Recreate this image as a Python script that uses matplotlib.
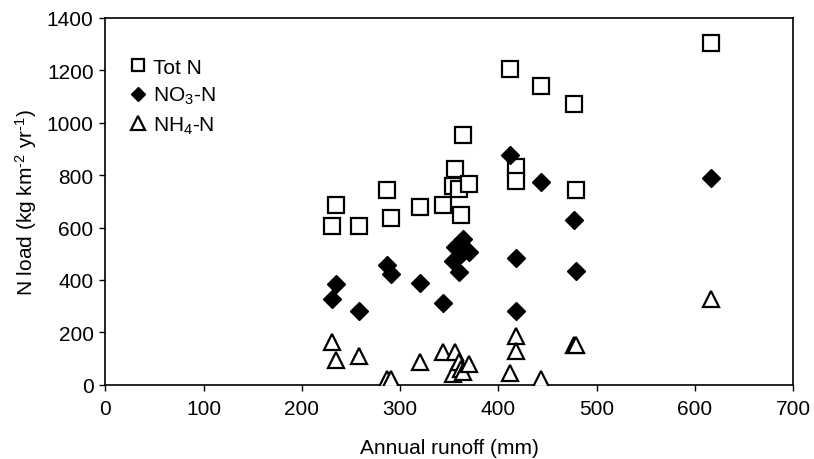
import matplotlib
matplotlib.use('Agg')
import matplotlib.pyplot as plt

plt.rcParams['font.family'] = ['Liberation Sans', 'DejaVu Sans']
plt.rcParams['mathtext.fontset'] = 'custom'
plt.rcParams['mathtext.rm'] = 'Liberation Sans'
plt.rcParams['mathtext.it'] = 'Liberation Sans:italic'
plt.rcParams['mathtext.bf'] = 'Liberation Sans:bold'

# annual runoff (mm) per catchment
runoff = [231, 235, 258, 287, 291, 320, 344, 354, 356, 360,
          362, 364, 370, 412, 418, 418, 443, 477, 479, 616]
# N loads (kg km-2 yr-1)
tot_n = [607, 686, 607, 745, 636, 680, 687, 760, 822, 747,
         649, 953, 765, 1205, 830, 779, 1142, 1073, 743, 1304]
no3_n = [327, 384, 283, 458, 423, 390, 311, 471, 525, 429,
         500, 556, 505, 877, 484, 281, 773, 629, 433, 789]
nh4_n = [162, 95, 108, 22, 22, 88, 124, 41, 124, 85,
         60, 50, 79, 45, 187, 127, 22, 151, 151, 327]

x_ticks = [0, 100, 200, 300, 400, 500, 600, 700]
y_ticks = [0, 200, 400, 600, 800, 1000, 1200, 1400]

FS = 15

fig = plt.figure(figsize=(8.14, 4.6), dpi=100)
ax = fig.add_axes([0.1294, 0.1615, 0.9746 - 0.1294, 0.9587 - 0.1615])

ax.plot(runoff, tot_n, linestyle='none', marker='s', ms=11, mfc='white',
        mec='black', mew=1.6, label='Tot N', zorder=3)
ax.plot(runoff, no3_n, linestyle='none', marker='D', ms=9, mfc='black',
        mec='black', mew=1, label=r'NO$_\mathregular{3}$-N', zorder=4)
ax.plot(runoff, nh4_n, linestyle='none', marker='^', ms=12, mfc='white',
        mec='black', mew=1.6, label=r'NH$_\mathregular{4}$-N', zorder=3)

ax.set_xlim(0, 700)
ax.set_ylim(0, 1400)
ax.set_xticks(x_ticks)
ax.set_yticks(y_ticks)
ax.tick_params(direction='out', length=4.5, width=1, labelsize=FS, colors='black')
ax.tick_params(axis='x', pad=6)
ax.tick_params(axis='y', pad=4)
for s in ax.spines.values():
    s.set_linewidth(1.2)
    s.set_color('black')

ax.set_xlabel('Annual runoff (mm)', fontsize=FS, labelpad=14)
ax.set_ylabel(r'N load (kg km$^{\text{-2}}$ yr$^{\text{-1}}$)', fontsize=FS, labelpad=5.5)

leg = ax.legend(loc='upper left', bbox_to_anchor=(0.0355, 0.892), frameon=False,
                fontsize=FS, markerscale=0.8, handlelength=0.8, handletextpad=0.32,
                labelspacing=0.4, borderaxespad=0, borderpad=0)

fig.savefig('out.png', dpi=100)
